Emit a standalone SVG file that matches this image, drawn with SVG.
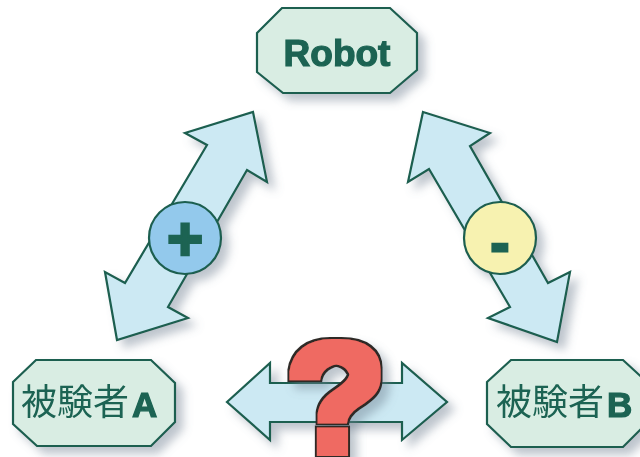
<svg xmlns="http://www.w3.org/2000/svg" width="640" height="457" viewBox="0 0 640 457">
<style>
.oct{fill:#d9ede3;stroke:#1b5e4f;stroke-width:2.2;stroke-linejoin:miter}
.arr{fill:#cce9f3;stroke:#1b5e4f;stroke-width:2.2;stroke-linejoin:miter}
.lbl{fill:#1b6352;font-family:"Noto Sans CJK JP","Noto Sans CJK SC",sans-serif;font-size:36px}
.lat{font-family:"Liberation Sans",Arial,sans-serif;font-weight:bold;stroke:#1b6352;stroke-width:1.2}
.sign{fill:#1b6352;stroke:#1b6352;font-family:"Liberation Sans",Arial,sans-serif;font-weight:bold;text-anchor:middle}
</style>
<defs>
<filter id="sh" x="-30%" y="-30%" width="170%" height="170%">
<feDropShadow dx="7" dy="7" stdDeviation="5" flood-color="#6d7f8f" flood-opacity="0.45"/>
</filter>
<filter id="qf" x="-30%" y="-30%" width="170%" height="170%">
<feMorphology in="SourceAlpha" operator="dilate" radius="4" result="d1"/>
<feMorphology in="SourceAlpha" operator="dilate" radius="6" result="d2"/>
<feFlood flood-color="#ef6b62"/>
<feComposite in2="d1" operator="in" result="red"/>
<feFlood flood-color="#2e2a28"/>
<feComposite in2="d2" operator="in" result="dark"/>
<feGaussianBlur in="d2" stdDeviation="5"/>
<feOffset dx="7" dy="7" result="sb"/>
<feFlood flood-color="#6d7f8f" flood-opacity="0.45"/>
<feComposite in2="sb" operator="in" result="shadow"/>
<feMerge><feMergeNode in="shadow"/><feMergeNode in="dark"/><feMergeNode in="red"/></feMerge>
</filter>
</defs>
<rect width="640" height="457" fill="#ffffff"/>
<g id="connectors">
<g id="arrow-plus" filter="url(#sh)">
<polygon class="arr" points="253,112 267,182 247,170 168,307 188,318 117,340 105,272 125,283 207,145 185,133"/>
<circle cx="185" cy="238" r="36" fill="#93c9ec" stroke="#1b5e4f" stroke-width="2.2"/>
<text class="sign" x="185" y="260" font-size="62" stroke-width="2.5">+</text>
</g>
<g id="arrow-minus" filter="url(#sh)">
<polygon class="arr" points="423,112 490,133 470,146 548,283 570,272 557,342 488,318 510,307 429,169 408,182"/>
<circle cx="500" cy="238" r="36" fill="#f7f2b0" stroke="#1b5e4f" stroke-width="2.2"/>
<text class="sign" x="500" y="262" font-size="55" stroke-width="3">-</text>
</g>
<g id="arrow-ab" filter="url(#sh)">
<polygon class="arr" points="227,402 270,363 270,383 402,383 402,363 447,402 402,440 402,422 270,422 270,440"/>
</g>
</g>
<g id="question" filter="url(#qf)">
<text x="0" y="0" transform="translate(336,452) scale(1.06,1)" font-family="'Liberation Sans',Arial,sans-serif" font-weight="bold" font-size="155" text-anchor="middle" fill="#000">?</text>
</g>
<g id="robot" filter="url(#sh)">
<polygon class="oct" points="257,33 282,8 390,8 417,33 417,70 390,93 283,93 257,72"/>
<text x="337" y="66" text-anchor="middle" fill="#1b6352" stroke="#1b6352" stroke-width="1.2" font-family="'Liberation Sans',Arial,sans-serif" font-weight="bold" font-size="37">Robot</text>
</g>
<g id="subjectA" filter="url(#sh)">
<polygon class="oct" points="13,382 36,360 151,360 175,383 175,422 151,446 37,446 13,424"/>
<text class="lbl" x="21" y="415">被験者<tspan class="lat" font-size="35" dx="3" dy="2">A</tspan></text>
</g>
<g id="subjectB" filter="url(#sh)">
<polygon class="oct" points="487,382 511,360 623,360 648,383 648,422 623,447 511,447 487,424"/>
<text class="lbl" x="496" y="415">被験者<tspan class="lat" font-size="35" dx="3" dy="2">B</tspan></text>
</g>
</svg>
